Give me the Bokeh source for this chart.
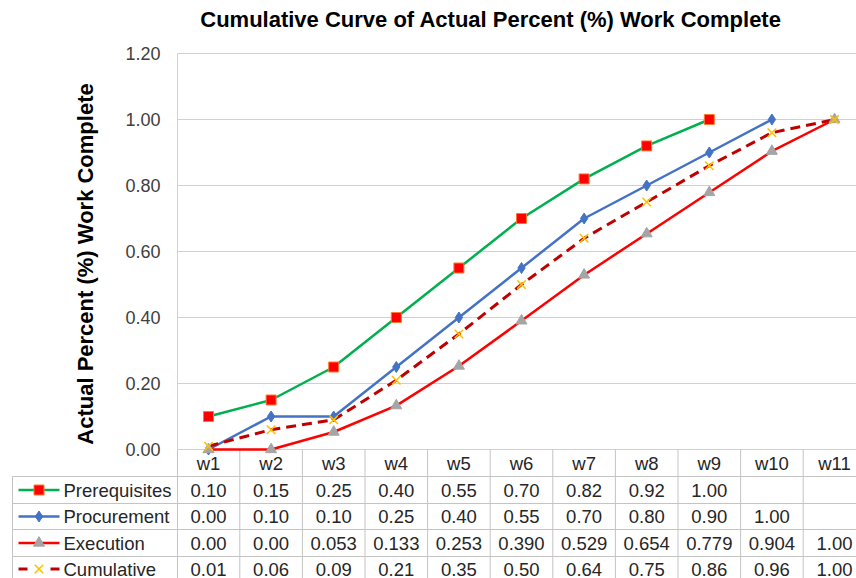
import math
from bokeh.plotting import figure
from bokeh.models import ColumnDataSource, Range1d
from bokeh.embed import file_html
from bokeh.resources import INLINE
from bokeh.core.properties import value

# ---------------- data ----------------
weeks = ["w1", "w2", "w3", "w4", "w5", "w6", "w7", "w8", "w9", "w10", "w11"]
prerequisites = [0.10, 0.15, 0.25, 0.40, 0.55, 0.70, 0.82, 0.92, 1.00, None, None]
procurement = [0.00, 0.10, 0.10, 0.25, 0.40, 0.55, 0.70, 0.80, 0.90, 1.00, None]
execution = [0.00, 0.00, 0.053, 0.133, 0.253, 0.390, 0.529, 0.654, 0.779, 0.904, 1.00]
cumulative = [0.01, 0.06, 0.09, 0.21, 0.35, 0.50, 0.64, 0.75, 0.86, 0.96, 1.00]
series_names = ["Prerequisites", "Procurement", "Execution", "Cumulative"]
series_decimals = [2, 2, 3, 2]
y_ticks = [0.0, 0.2, 0.4, 0.6, 0.8, 1.0, 1.2]
title_text = "Cumulative Curve of Actual Percent (%) Work Complete"
y_title = "Actual Percent (%) Work Complete"

FONT = "Liberation Sans"
W, H = 856, 578
C = 62.6          # px per category
S = 330.0         # px per y unit
X1_PX = 208.0     # page x of w1
Y0_PX = 449.0     # page y of 0.00


def px_to_x(px):
    return 1 + (px - X1_PX) / C


def py(px):
    return (Y0_PX - px) / S


def nan(v):
    return float("nan") if v is None else v


xs = list(range(1, len(weeks) + 1))
src = ColumnDataSource(dict(
    x=xs,
    pre=[nan(v) for v in prerequisites],
    pro=[nan(v) for v in procurement],
    exe=[nan(v) for v in execution],
    cum=[nan(v) for v in cumulative],
))

p = figure(width=W, height=H,
           x_range=Range1d(px_to_x(0), px_to_x(W)),
           y_range=Range1d(py(H), py(0)),
           output_backend="svg", toolbar_location=None, min_border=0,
           x_axis_location=None, y_axis_location=None)
p.outline_line_color = None
p.grid.visible = False

GRID = "#D0D0D0"
TABLE = "#C4C4C4"
plot_left = px_to_x(177)
right = px_to_x(W)

# horizontal gridlines of the plot area (at tick values)
p.segment([plot_left] * len(y_ticks), y_ticks, [right] * len(y_ticks), y_ticks,
          line_color=GRID, line_width=1)
# left edge of plot area
p.segment([plot_left], [0], [plot_left], [y_ticks[-1]], line_color=GRID, line_width=1)

# y tick labels
p.text([px_to_x(160)] * len(y_ticks), y_ticks, text=[f"{t:.2f}" for t in y_ticks],
       text_align="right", text_baseline="middle", text_font=value(FONT),
       text_font_size="18px", text_color="#404040")

# y axis title
p.text([px_to_x(85)], [py(263.5)], text=[y_title], angle=math.pi / 2,
       text_align="center", text_baseline="middle", text_font=value(FONT),
       text_font_size="22px", text_font_style="bold", text_color="#000000")

# chart title
p.text([px_to_x(490.5)], [py(18.5)], text=[title_text],
       text_align="center", text_baseline="middle", text_font=value(FONT),
       text_font_size="22px", text_font_style="bold", text_color="#000000")

# ---------------- data table grid ----------------
left_edge = px_to_x(12)
row_edges = [476, 503, 529, 556]
header_center = 463
row_centers = [489.5, 516, 542.5, 568.5]
gx0, gy0, gx1, gy1 = [], [], [], []
for r in row_edges:
    gx0.append(left_edge); gx1.append(right); gy0.append(py(r)); gy1.append(py(r))
for xv in [plot_left] + [i + 0.5 for i in range(1, len(weeks))]:
    gx0.append(xv); gx1.append(xv); gy0.append(0); gy1.append(py(H))
gx0.append(left_edge); gx1.append(left_edge); gy0.append(py(476)); gy1.append(py(H))
p.segment(gx0, gy0, gx1, gy1, line_color=TABLE, line_width=1)

# ---------------- series ----------------
p.line("x", "pre", source=src, line_color="#00B050", line_width=2.5)
p.line("x", "pro", source=src, line_color="#4472C4", line_width=2.5)
p.line("x", "exe", source=src, line_color="#FF0000", line_width=2.5)
p.line("x", "cum", source=src, line_color="#C00000", line_width=3, line_dash="10 6")
mk_styles = [
    dict(marker="square", size=10, fill_color="#FF0000", line_color="#FF7A30", line_width=1),
    dict(marker="diamond", size=11, fill_color="#4472C4", line_color="#4472C4"),
    dict(marker="triangle", size=11, fill_color="#A5A5A5", line_color="#A5A5A5"),
    dict(marker="x", size=12, line_color="#FFC000", line_width=1.6),
]
for col, st in zip(["pre", "pro", "exe", "cum"], mk_styles):
    p.scatter("x", col, source=src, **st)

# ---------------- data table texts ----------------
p.text(xs, [py(header_center)] * len(xs), text=weeks, text_align="center",
       text_baseline="middle", text_font=value(FONT), text_font_size="18.5px",
       text_color="#262626")

all_series = [prerequisites, procurement, execution, cumulative]
for vals, dec, yc in zip(all_series, series_decimals, row_centers):
    tx, ty, tt = [], [], []
    for i, v in enumerate(vals):
        if v is None:
            continue
        d = 2 if v in (0.0, 1.0) else dec
        tx.append(i + 1); ty.append(py(yc)); tt.append(f"{v:.{d}f}")
    p.text(tx, ty, text=tt, text_align="center", text_baseline="middle",
           text_font=value(FONT), text_font_size="18.5px", text_color="#262626")

# legend keys
kx0, kx1, kxm = px_to_x(18), px_to_x(59), px_to_x(38.5)
key_lines = [
    dict(line_color="#00B050", line_width=2.5),
    dict(line_color="#4472C4", line_width=2.5),
    dict(line_color="#FF0000", line_width=2.5),
    dict(line_color="#C00000", line_width=3, line_dash="9 23"),
]
for st, mk, yc in zip(key_lines, mk_styles, row_centers):
    p.line([kx0, kx1], [py(yc), py(yc)], **st)
    p.scatter([kxm], [py(yc)], **mk)
p.text([px_to_x(63)] * 4, [py(c) for c in row_centers], text=series_names,
       text_align="left", text_baseline="middle", text_font=value(FONT),
       text_font_size="18.5px", text_color="#262626")

open("out.html", "w").write(file_html(p, INLINE))
